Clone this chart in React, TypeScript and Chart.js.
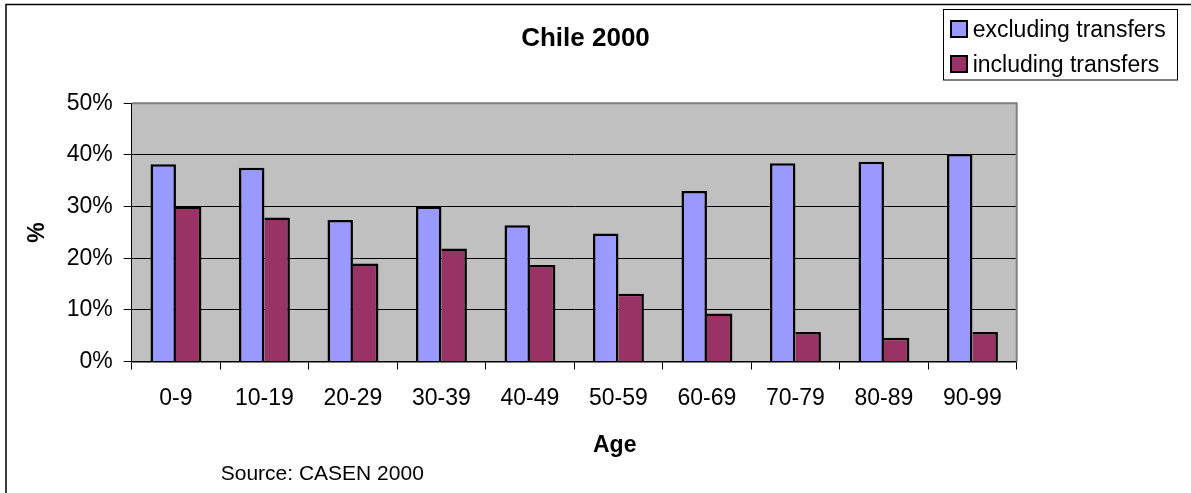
import React, { useEffect, useRef } from "react";
import { Chart, registerables } from "chart.js";

Chart.register(...registerables);

const categories = ["0-9", "10-19", "20-29", "30-39", "40-49", "50-59", "60-69", "70-79", "80-89", "90-99"];
const excludingTransfers = [38.2, 37.5, 27.4, 30.0, 26.4, 24.8, 33.0, 38.4, 38.7, 40.2];
const includingTransfers = [30.0, 27.9, 19.0, 21.9, 18.7, 13.1, 9.3, 5.7, 4.6, 5.7];
const seriesLabels = ["excluding transfers", "including transfers"];
const yTicks = [0, 10, 20, 30, 40, 50];
const chartTitle = "Chile 2000";
const xTitle = "Age";
const yTitle = "%";
const sourceNote = "Source: CASEN 2000";

const W = 1191;
const H = 493;
const FONT = "'Liberation Sans', Arial, sans-serif";
const BLUE = "#9999FF";
const RED = "#993366";

const decorPlugin = {
  id: "decor",
  beforeDraw(chart: any) {
    const ctx = chart.ctx;
    const a = chart.chartArea;
    ctx.save();
    ctx.fillStyle = "#ffffff";
    ctx.fillRect(0, 0, W, H);
    ctx.strokeStyle = "#000000";
    ctx.lineWidth = 1.5;
    ctx.beginPath();
    ctx.moveTo(6, H + 5);
    ctx.lineTo(6, 4.5);
    ctx.lineTo(W + 5, 4.5);
    ctx.stroke();
    ctx.fillStyle = "#C0C0C0";
    ctx.fillRect(a.left, a.top, a.right - a.left, a.bottom - a.top);
    ctx.restore();
  },
  afterDatasetsDraw(chart: any) {
    const ctx = chart.ctx;
    const a = chart.chartArea;
    ctx.save();
    ctx.strokeStyle = "#808080";
    ctx.lineWidth = 2;
    ctx.beginPath();
    ctx.moveTo(a.left, a.top);
    ctx.lineTo(a.right, a.top);
    ctx.lineTo(a.right, a.bottom);
    ctx.stroke();
    ctx.restore();
  },
  afterDraw(chart: any) {
    const ctx = chart.ctx;
    ctx.save();
    ctx.fillStyle = "#000000";
    ctx.textBaseline = "alphabetic";
    ctx.font = `bold 26px ${FONT}`;
    ctx.textAlign = "center";
    ctx.fillText(chartTitle, 585.5, 46);
    ctx.font = `bold 23px ${FONT}`;
    ctx.fillText(xTitle, 614.7, 452);
    ctx.font = `21px ${FONT}`;
    ctx.textAlign = "left";
    ctx.fillText(sourceNote, 220.7, 480);
    ctx.strokeStyle = "#000000";
    ctx.lineWidth = 1;
    ctx.strokeRect(943.5, 9.5, 234, 70.5);
    ctx.font = `23px ${FONT}`;
    chart.data.datasets.forEach((ds: any, i: number) => {
      const top = 21 + i * 35;
      ctx.fillStyle = ds.backgroundColor;
      ctx.fillRect(951, top, 16, 16);
      ctx.lineWidth = 2;
      ctx.strokeStyle = "#000000";
      ctx.strokeRect(951, top, 16, 16);
      ctx.fillStyle = "#000000";
      ctx.fillText(ds.label, 972.7, 36.5 + i * 35);
    });
    ctx.restore();
  },
};

export default function App() {
  const ref = useRef<HTMLCanvasElement | null>(null);
  useEffect(() => {
    if (!ref.current) return;
    Chart.defaults.font.family = FONT;
    const chart = new Chart(ref.current, {
      type: "bar",
      data: {
        labels: categories,
        datasets: [
          {
            label: seriesLabels[0],
            data: excludingTransfers,
            backgroundColor: BLUE,
            borderColor: "#000000",
            borderWidth: 2.5,
            borderSkipped: "bottom",
            categoryPercentage: 0.575,
            barPercentage: 1,
          },
          {
            label: seriesLabels[1],
            data: includingTransfers,
            backgroundColor: RED,
            borderColor: "#000000",
            borderWidth: { top: 2.5, right: 2.5, left: 0, bottom: 0 },
            borderSkipped: "bottom",
            categoryPercentage: 0.575,
            barPercentage: 1,
          },
        ],
      },
      options: {
        responsive: false,
        animation: false,
        layout: { padding: { top: 103.3, right: 174.3, bottom: 0, left: 0 } },
        plugins: {
          legend: { display: false },
          title: { display: false },
          tooltip: { enabled: false },
        },
        scales: {
          x: {
            afterFit: (s: any) => {
              s.height = 131.5;
            },
            grid: {
              offset: true,
              drawOnChartArea: false,
              drawTicks: true,
              tickLength: 8,
              tickColor: "#000000",
              color: "#000000",
            },
            border: { color: "#000000", width: 1.5 },
            ticks: { color: "#000000", font: { size: 23 }, padding: 15, maxRotation: 0, autoSkip: false },
          },
          y: {
            min: 0,
            max: 50,
            afterFit: (s: any) => {
              s.width = 131.7;
            },
            afterBuildTicks: (s: any) => {
              s.ticks = yTicks.map((v) => ({ value: v }));
            },
            grid: {
              color: (c: any) => (c.tick && c.tick.value === 50 ? "#808080" : "#000000"),
              lineWidth: 1,
              drawTicks: true,
              tickLength: 8,
              tickColor: "#000000",
            },
            border: { color: "#000000", width: 1 },
            ticks: {
              color: "#000000",
              font: { size: 23 },
              padding: 11,
              callback: (v: any) => `${v}%`,
            },
            title: {
              display: true,
              text: yTitle,
              color: "#000000",
              font: { size: 23, weight: "bold" },
              padding: { top: 23.7, bottom: 0 },
            },
          },
        },
      },
      plugins: [decorPlugin],
    });
    return () => chart.destroy();
  }, []);
  return (
    <div style={{ position: "absolute", left: 0, top: 0, width: W, height: H, background: "#fff" }}>
      <canvas ref={ref} width={W} height={H} style={{ display: "block" }} />
    </div>
  );
}
